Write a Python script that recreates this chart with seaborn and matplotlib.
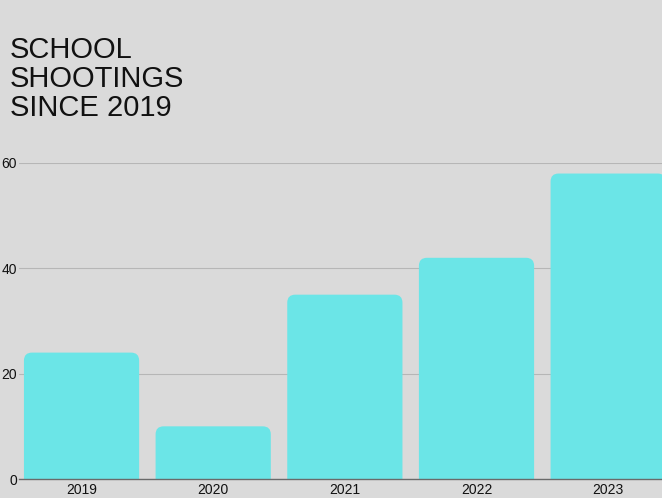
import matplotlib
matplotlib.use("Agg")
import matplotlib.pyplot as plt
import seaborn as sns
import pandas as pd
from matplotlib.patches import FancyBboxPatch

years = ["2019", "2020", "2021", "2022", "2023"]
shootings = [24, 10, 35, 42, 58]
yticks = [0, 20, 40, 60]
title = "SCHOOL\nSHOOTINGS\nSINCE 2019"

BG = "#dadada"
BAR = "#6be5e7"

sns.set_theme(style="white")
plt.rcParams["font.family"] = ["Liberation Sans", "DejaVu Sans"]

W, H = 662, 498
fig = plt.figure(figsize=(W / 100, H / 100), dpi=100, facecolor=BG)
ax = fig.add_axes([19 / W, (H - 479) / H, 655 / W, 316 / H])
ax.set_facecolor(BG)

df = pd.DataFrame({"year": years, "count": shootings})
sns.barplot(data=df, x="year", y="count", color=BAR, saturation=1, width=0.875, ax=ax, zorder=2)

ax.set_xlim(-0.475, 4.5)
ax.set_ylim(0, 60)

# replace bars with rounded-top versions
x_px = 131.5
y_px = 316 / 60
r = 8 / x_px
for p in list(ax.patches):
    x0, w, h = p.get_x(), p.get_width(), p.get_height()
    p.remove()
    fb = FancyBboxPatch((x0, -4), w, h + 4,
                        boxstyle=f"round,pad=0,rounding_size={r}",
                        mutation_aspect=x_px / y_px,
                        facecolor=BAR, edgecolor="none", zorder=2)
    ax.add_patch(fb)

ax.set_yticks(yticks)
ax.yaxis.grid(True, color="#b6b6b6", linewidth=0.8, zorder=0)
ax.set_axisbelow(True)
for s in ["top", "right", "left"]:
    ax.spines[s].set_visible(False)
ax.spines["bottom"].set_color("#6a6a6a")
ax.spines["bottom"].set_linewidth(1.0)
ax.spines["bottom"].set_zorder(3)
ax.tick_params(axis="both", length=0, labelsize=10, colors="#111111")
ax.tick_params(axis="y", pad=1.5)
ax.tick_params(axis="x", pad=3)
ax.set_xlabel("")
ax.set_ylabel("")

fig.text(10 / W, 1 - 36 / H, title, ha="left", va="top", fontsize=21,
         color="#111111", linespacing=1.04)

fig.savefig("out.png", dpi=100, facecolor=BG)
